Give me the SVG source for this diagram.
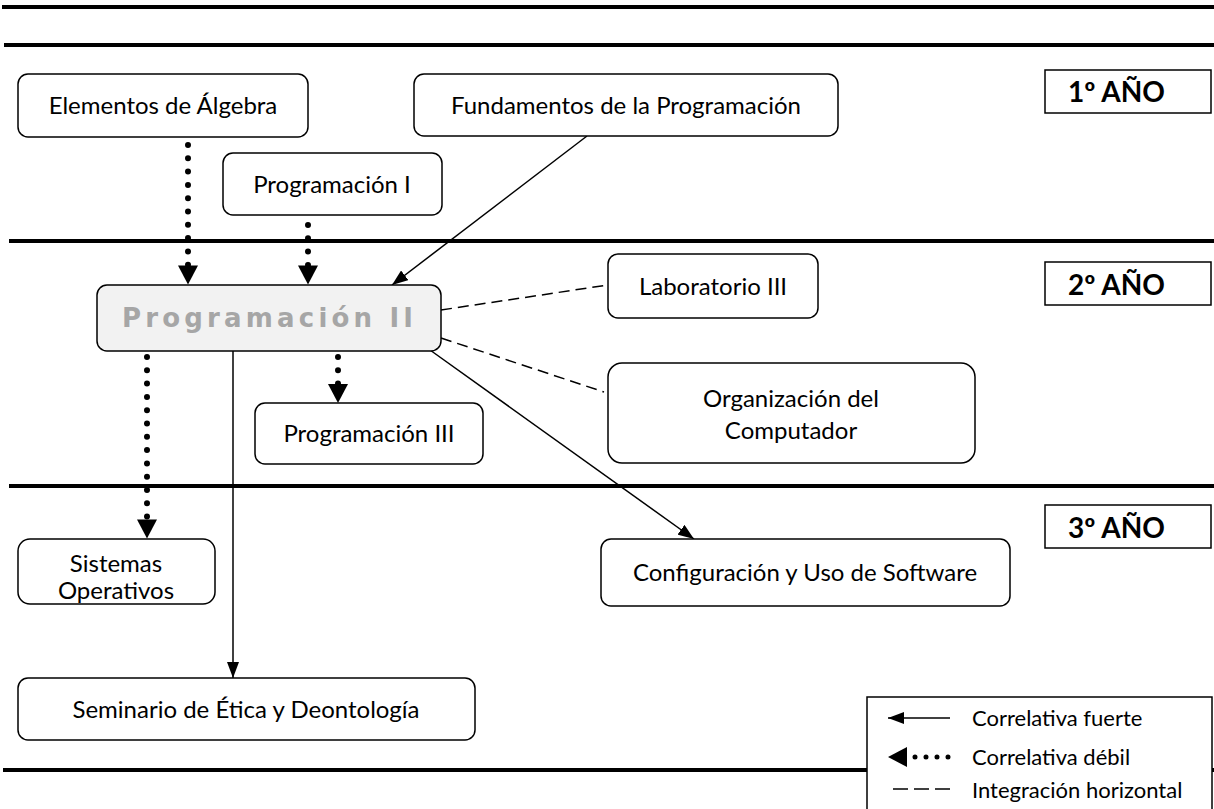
<svg xmlns="http://www.w3.org/2000/svg" width="1214" height="809" viewBox="0 0 1214 809">
<style>
.box{fill:#fff;stroke:#000;stroke-width:1.5}
.t{font-family:Lato,"Open Sans","Liberation Sans",sans-serif;font-size:24px;fill:#000;text-anchor:middle}
.yr{font-family:Lato,"Open Sans","Liberation Sans",sans-serif;font-size:28px;font-weight:bold;fill:#000}
.lg{font-family:Lato,"Open Sans","Liberation Sans",sans-serif;font-size:22px;fill:#000}
.hl{stroke:#000;stroke-width:4}
.solid{stroke:#000;stroke-width:1.5;fill:none}
.dot{stroke:#000;stroke-width:6;stroke-linecap:round;stroke-dasharray:0 13.3;fill:none}
.dash{stroke:#000;stroke-width:1.5;stroke-dasharray:11 6;fill:none}
</style>
<defs>
<marker id="big" markerUnits="userSpaceOnUse" markerWidth="20" markerHeight="20" viewBox="0 0 19 20" refX="19" refY="10" orient="auto">
<path d="M0,0 L19,10 L0,20 Z" fill="#000"/>
</marker>
<marker id="sm" markerUnits="userSpaceOnUse" markerWidth="16" markerHeight="12" viewBox="0 0 16 12" refX="16" refY="6" orient="auto">
<path d="M0,0 L16,6 L0,12 Z" fill="#000"/>
</marker>
</defs>
<rect width="1214" height="809" fill="#fff"/>
<g id="lines">
<line class="hl" x1="2" y1="7" x2="1214" y2="7"/>
<line class="hl" x1="4" y1="45" x2="1214" y2="45"/>
<line class="hl" x1="9" y1="241" x2="1214" y2="241"/>
<line class="hl" x1="9" y1="486" x2="1214" y2="486"/>
<line class="hl" x1="3" y1="770" x2="1214" y2="770"/>
</g>
<g id="connectors">
<line class="dot" x1="188" y1="145" x2="188" y2="265"/>
<line x1="188" y1="262" x2="188" y2="284.5" marker-end="url(#big)"/>
<line class="dot" x1="308" y1="225" x2="308" y2="265"/>
<line x1="308" y1="262" x2="308" y2="284.5" marker-end="url(#big)"/>
<line class="solid" x1="587" y1="136" x2="392" y2="285" marker-end="url(#sm)"/>
<line class="dash" x1="441" y1="310" x2="608" y2="285"/>
<line class="dash" x1="441" y1="338" x2="604" y2="392"/>
<line class="dot" x1="338" y1="357" x2="338" y2="384"/>
<line x1="338" y1="382" x2="338" y2="403" marker-end="url(#big)"/>
<line class="dot" x1="147" y1="357" x2="147" y2="517"/>
<line x1="147" y1="515" x2="147" y2="538.5" marker-end="url(#big)"/>
<line class="solid" x1="233" y1="351" x2="233" y2="678" marker-end="url(#sm)"/>
<line class="solid" x1="430" y1="350" x2="694" y2="539" marker-end="url(#sm)"/>
</g>
<g id="n-algebra">
<rect class="box" x="18" y="74" width="290" height="63" rx="10"/>
<text class="t" x="163" y="114">Elementos de Álgebra</text>
</g>
<g id="n-fundamentos">
<rect class="box" x="414" y="74" width="424" height="62" rx="10"/>
<text class="t" x="626" y="114">Fundamentos de la Programación</text>
</g>
<g id="n-prog1">
<rect class="box" x="223" y="153" width="219" height="62" rx="10"/>
<text class="t" x="332" y="193">Programación I</text>
</g>
<g id="n-prog2">
<rect x="97" y="285" width="344" height="66" rx="10" fill="#f2f2f2" stroke="#000" stroke-width="1.5"/>
<text x="122" y="327" textLength="291" lengthAdjust="spacing" font-family="DejaVu Sans,Verdana,sans-serif" font-size="26" font-weight="bold" fill="#a6a6a6">Programación II</text>
</g>
<g id="n-lab3">
<rect class="box" x="608" y="254" width="210" height="64" rx="10"/>
<text class="t" x="713" y="295">Laboratorio III</text>
</g>
<g id="n-org">
<rect class="box" x="608" y="363" width="367" height="100" rx="14"/>
<text class="t" x="791" y="407">Organización del</text>
<text class="t" x="791" y="439">Computador</text>
</g>
<g id="n-prog3">
<rect class="box" x="255" y="403" width="228" height="61" rx="10"/>
<text class="t" x="369" y="442">Programación III</text>
</g>
<g id="n-so">
<rect class="box" x="18" y="539" width="197" height="65" rx="12"/>
<text class="t" x="116" y="572" font-size="22">Sistemas</text>
<text class="t" x="116" y="599" font-size="22">Operativos</text>
</g>
<g id="n-conf">
<rect class="box" x="601" y="539" width="409" height="67" rx="10"/>
<text class="t" x="805" y="581">Configuración y Uso de Software</text>
</g>
<g id="n-seminario">
<rect class="box" x="18" y="678" width="457" height="62" rx="10"/>
<text class="t" x="246" y="718">Seminario de Ética y Deontología</text>
</g>
<g id="y1">
<rect class="box" x="1045" y="70" width="166" height="43"/>
<text class="yr" x="1068" y="102">1º AÑO</text>
</g>
<g id="y2">
<rect class="box" x="1045" y="262" width="166" height="43"/>
<text class="yr" x="1068" y="295">2º AÑO</text>
</g>
<g id="y3">
<rect class="box" x="1045" y="505" width="166" height="43"/>
<text class="yr" x="1068" y="538">3º AÑO</text>
</g>
<g id="legend">
<rect class="box" x="867" y="697" width="345" height="120"/>
<line class="solid" x1="950" y1="718" x2="888" y2="718" marker-end="url(#sm)"/>
<text class="lg" x="972" y="726">Correlativa fuerte</text>
<line stroke="#000" stroke-width="5" stroke-linecap="round" stroke-dasharray="0 11" x1="948" y1="757" x2="910" y2="757"/>
<line x1="906" y1="757" x2="888" y2="757" marker-end="url(#big)"/>
<text class="lg" x="972" y="765">Correlativa débil</text>
<line stroke="#000" stroke-width="1.5" stroke-dasharray="15 6" x1="893" y1="789" x2="951" y2="789"/>
<text class="lg" x="972" y="798">Integración horizontal</text>
</g>
</svg>
